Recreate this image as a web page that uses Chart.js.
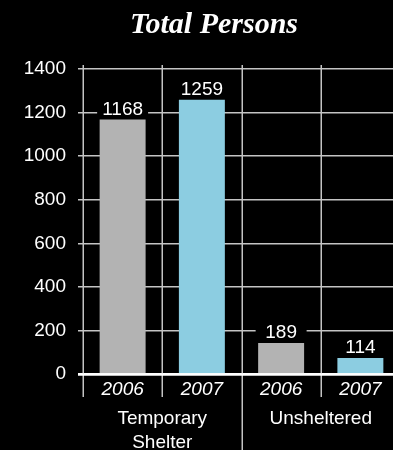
<!DOCTYPE html>
<html><head><meta charset="utf-8">
<script src="https://cdn.jsdelivr.net/npm/chart.js@4/dist/chart.umd.min.js"></script>
<style>
html,body{margin:0;padding:0;background:#000;overflow:hidden;width:393px;height:450px}
#wrap{position:relative;width:400px;height:450px}
</style></head>
<body><div id="wrap"><canvas id="c" width="400" height="450"></canvas></div>
<script>
const chartTitle = 'Total Persons';
const years = ['2006', '2007', '2006', '2007'];
const groups = [['Temporary', 'Shelter'], ['Unsheltered']];
const barHeights = [1168, 1259, 142, 73];
const valueLabels = ['1168', '1259', '189', '114'];
const barColors = ['#b3b3b3', '#8ccde1', '#b3b3b3', '#8ccde1'];
const yMin = 0, yMax = 1400, yStep = 200;

const SANS = '"Liberation Sans", Arial, Helvetica, sans-serif';
const GRID = '#c4c4c4';

const decor = {
  id: 'decor',
  beforeDatasetsDraw(chart) {
    const ctx = chart.ctx, xs = chart.scales.x, ys = chart.scales.y;
    const w = xs.getPixelForValue(1) - xs.getPixelForValue(0);
    const top = ys.getPixelForValue(yMax);
    const bottom = ys.getPixelForValue(0);
    ctx.save();
    ctx.strokeStyle = GRID;
    ctx.lineWidth = 1.5;
    for (let i = 0; i <= years.length; i++) {
      const x = Math.round(xs.getPixelForValue(i) - w / 2) + 0.25;
      const isGroupSep = (i === 2);
      ctx.beginPath();
      ctx.moveTo(x, top - 4);
      ctx.lineTo(x, isGroupSep ? chart.height : bottom + 23);
      ctx.stroke();
    }
    ctx.restore();
  },
  afterDatasetsDraw(chart) {
    const ctx = chart.ctx, xs = chart.scales.x, ys = chart.scales.y;
    const meta = chart.getDatasetMeta(0);
    const zero = ys.getPixelForValue(0);
    ctx.save();
    // zero line
    ctx.strokeStyle = '#ffffff';
    ctx.lineWidth = 2.5;
    ctx.beginPath();
    ctx.moveTo(ys.right - 5, zero + 0.5);
    ctx.lineTo(chart.width, zero + 0.5);
    ctx.stroke();
    // value labels with black boxes
    ctx.font = '19px ' + SANS;
    ctx.textAlign = 'center';
    ctx.textBaseline = 'alphabetic';
    meta.data.forEach((bar, i) => {
      const bw = bar.width + 5;
      const base = bar.y - 5;
      ctx.fillStyle = '#000';
      ctx.fillRect(bar.x - bw / 2, base - 17, bw, 20);
      ctx.fillStyle = '#ffffff';
      ctx.fillText(valueLabels[i], bar.x, base);
    });
    // year labels
    ctx.font = 'italic 19px ' + SANS;
    ctx.textBaseline = 'middle';
    years.forEach((y, i) => {
      ctx.fillText(y, xs.getPixelForValue(i), zero + 16);
    });
    // group labels
    ctx.font = '19px ' + SANS;
    groups.forEach((lines, g) => {
      const cx = (xs.getPixelForValue(g * 2) + xs.getPixelForValue(g * 2 + 1)) / 2;
      lines.forEach((t, k) => {
        ctx.fillText(t, cx, zero + 45 + k * 24);
      });
    });
    // title
    ctx.font = 'italic bold 30px "Liberation Serif", "Times New Roman", serif';
    ctx.textBaseline = 'alphabetic';
    ctx.fillText(chartTitle, 214, 33);
    ctx.restore();
  }
};

new Chart(document.getElementById('c'), {
  type: 'bar',
  data: {
    labels: years,
    datasets: [{
      data: barHeights,
      backgroundColor: barColors,
      borderWidth: 0,
      barPercentage: 0.58,
      categoryPercentage: 1.0
    }]
  },
  options: {
    responsive: false,
    devicePixelRatio: 1,
    animation: false,
    layout: { padding: { top: 69, left: 0, right: 0, bottom: 0 } },
    plugins: { legend: { display: false }, tooltip: { enabled: false }, title: { display: false } },
    scales: {
      x: {
        grid: { display: false },
        border: { display: false },
        ticks: { display: false },
        afterFit(scale) { scale.height = 76; }
      },
      y: {
        min: yMin, max: yMax,
        border: { display: false },
        grid: {
          color: ctx => ctx.tick && ctx.tick.value === 0 ? '#ffffff' : GRID,
          lineWidth: 1.5,
          tickLength: 5,
          drawTicks: true
        },
        ticks: {
          stepSize: yStep,
          color: '#ffffff',
          font: { family: SANS, size: 19 },
          padding: 12,
          callback: v => String(v)
        },
        afterFit(scale) { scale.width = 83; }
      }
    }
  },
  plugins: [decor]
});
</script>
</body></html>
